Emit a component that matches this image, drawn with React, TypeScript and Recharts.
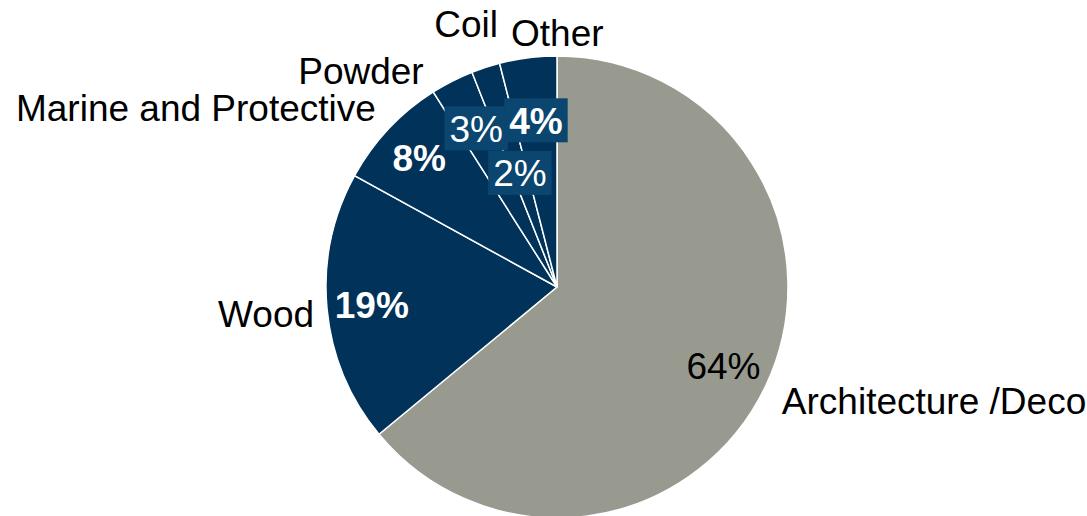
import React from 'react';
import { PieChart, Pie, Cell } from 'recharts';

// Coatings segments and their share of sales (%)
const segments = ['Architecture /Deco', 'Wood', 'Marine and Protective', 'Powder', 'Coil', 'Other'];
const shares = [64, 19, 8, 3, 2, 4];
const sliceColors = ['#989a90', '#00325a', '#00325a', '#00325a', '#00325a', '#00325a'];

const data = segments.map((name, i) => ({ name, value: shares[i] }));

// Label styling per slice
const FONT = '"Liberation Sans", Arial, Helvetica, sans-serif';
const FS = 37;
const CAP_MID = 0.358; // half the cap height, in em
const valueRadius = [184, 186, 189, 178, 120, 168];
const valueBold = [false, true, true, false, false, true];
const valueBoxed = [false, false, false, true, true, true];
const valueColor = ['#000000', '#ffffff', '#ffffff', '#ffffff', '#ffffff', '#ffffff'];
const nameAnchor: Array<'start' | 'end'> = ['start', 'end', 'end', 'end', 'end', 'start'];
const nameNudge: Array<[number, number]> = [
  [5, 10],
  [-1, 4],
  [-4, -13],
  [-23, 0],
  [16, -32],
  [-15.5, -13],
];
const BOX_COLOR = '#0a466f';

const RAD = Math.PI / 180;

function textWidth(s: string) {
  let w = 0;
  for (const ch of s) {
    if (ch === '%') w += 0.889;
    else w += 0.556;
  }
  return w * FS;
}

function renderLabel(props: any) {
  const { cx, cy, midAngle, outerRadius, index } = props;
  const at = (r: number) => ({
    x: cx + r * Math.cos(-midAngle * RAD),
    y: cy + r * Math.sin(-midAngle * RAD),
  });
  const n = at(outerRadius + 12);
  const [ndx, ndy] = nameNudge[index];
  const v = at(valueRadius[index]);
  const text = `${shares[index]}%`;
  const w = textWidth(text) + 10;
  const h = 44;
  return (
    <g key={`lbl-${index}`}>
      <text
        x={n.x + ndx}
        y={n.y + ndy + FS * CAP_MID}
        textAnchor={nameAnchor[index]}
        fontSize={FS}
        fontFamily={FONT}
        fill="#000000"
      >
        {segments[index]}
      </text>
      {valueBoxed[index] && (
        <rect x={v.x - w / 2} y={v.y - h / 2} width={w} height={h} fill={BOX_COLOR} />
      )}
      <text
        x={v.x}
        y={v.y + FS * CAP_MID}
        textAnchor="middle"
        fontSize={FS}
        fontFamily={FONT}
        fontWeight={valueBold[index] ? 'bold' : 'normal'}
        fill={valueColor[index]}
      >
        {text}
      </text>
    </g>
  );
}

export default function App() {
  return (
    <div style={{ position: 'absolute', left: 0, top: 0, width: 1087, height: 516, background: '#ffffff', fontFamily: FONT }}>
      <PieChart width={1087} height={516} margin={{ top: 0, right: 0, bottom: 0, left: 0 }}>
        <Pie
          data={data}
          dataKey="value"
          nameKey="name"
          cx={557}
          cy={287}
          outerRadius={231}
          startAngle={90}
          endAngle={-270}
          stroke="#ffffff"
          strokeWidth={1.5}
          labelLine={false}
          label={renderLabel}
          isAnimationActive={false}
        >
          {data.map((d, i) => (
            <Cell key={d.name} fill={sliceColors[i]} />
          ))}
        </Pie>
      </PieChart>
    </div>
  );
}
